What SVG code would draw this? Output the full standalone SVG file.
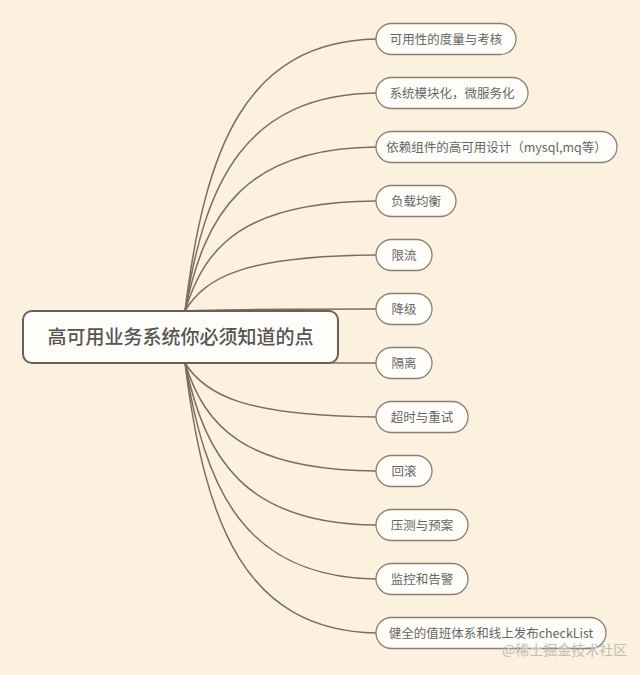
<svg xmlns="http://www.w3.org/2000/svg" width="640" height="675" viewBox="0 0 640 675">
<style>
.bg{fill:#fbf1de}
.edge{fill:none;stroke:#7d6e5a;stroke-width:1.5}
.leaf rect{fill:#fffdf9;stroke:#8c7f6e;stroke-width:1.3}
.leaf text{font-family:"Noto Sans CJK SC","Noto Sans",sans-serif;font-size:12.5px;fill:#666;text-anchor:middle}
.root rect{fill:#fffdf9;stroke:#6b6152;stroke-width:2}
.root text{font-family:"Noto Sans CJK SC","Noto Sans",sans-serif;font-size:19px;font-weight:500;fill:#555;text-anchor:middle}
.wm{font-family:"Noto Sans CJK SC","Noto Sans",sans-serif;font-size:14px;fill:#c2beb6}
</style>
<rect class="bg" x="0" y="0" width="640" height="675"/>
<g id="connectors">
<path class="edge" d="M185,311 C205,148 245,42 376,39"/>
<path class="edge" d="M185,311 C205,181 245,95 376,93"/>
<path class="edge" d="M185,311 C205,213 245,148 376,147"/>
<path class="edge" d="M185,311 C205,245 245,202 376,201"/>
<path class="edge" d="M185,311 C205,277 245,256 376,255"/>
<path class="edge" d="M185,311 C205,310 245,309 376,309"/>
<path class="edge" d="M185,363 C205,363 245,363 376,363"/>
<path class="edge" d="M185,363 C205,395 245,416 376,417"/>
<path class="edge" d="M185,363 C205,427 245,470 376,471"/>
<path class="edge" d="M185,363 C205,459 245,524 376,525"/>
<path class="edge" d="M185,363 C205,491 245,577 376,579"/>
<path class="edge" d="M185,363 C205,525 245,630 376,633"/>
</g>
<g id="root" class="root">
<rect x="23" y="311" width="315" height="52" rx="9"/>
<text x="180.5" y="343.5">高可用业务系统你必须知道的点</text>
</g>
<g id="n1" class="leaf"><rect x="376" y="23.5" width="140" height="31" rx="15.5"/><text x="446" y="43.5">可用性的度量与考核</text></g>
<g id="n2" class="leaf"><rect x="376" y="77.5" width="152" height="31" rx="15.5"/><text x="452" y="97.5">系统模块化，微服务化</text></g>
<g id="n3" class="leaf"><rect x="376" y="131.5" width="241" height="31" rx="15.5"/><text x="496.5" y="151.5">依赖组件的高可用设计（mysql,mq等）</text></g>
<g id="n4" class="leaf"><rect x="376" y="185.5" width="80" height="31" rx="15.5"/><text x="416" y="205.5">负载均衡</text></g>
<g id="n5" class="leaf"><rect x="376" y="239.5" width="56" height="31" rx="15.5"/><text x="404" y="259.5">限流</text></g>
<g id="n6" class="leaf"><rect x="376" y="293.5" width="56" height="31" rx="15.5"/><text x="404" y="313.5">降级</text></g>
<g id="n7" class="leaf"><rect x="376" y="347.5" width="56" height="31" rx="15.5"/><text x="404" y="367.5">隔离</text></g>
<g id="n8" class="leaf"><rect x="376" y="401.5" width="92" height="31" rx="15.5"/><text x="422" y="421.5">超时与重试</text></g>
<g id="n9" class="leaf"><rect x="376" y="455.5" width="56" height="31" rx="15.5"/><text x="404" y="475.5">回滚</text></g>
<g id="n10" class="leaf"><rect x="376" y="509.5" width="92" height="31" rx="15.5"/><text x="422" y="529.5">压测与预案</text></g>
<g id="n11" class="leaf"><rect x="376" y="563.5" width="92" height="31" rx="15.5"/><text x="422" y="583.5">监控和告警</text></g>
<g id="n12" class="leaf"><rect x="376" y="617.5" width="230" height="31" rx="15.5"/><text x="491" y="637.5">健全的值班体系和线上发布checkList</text></g>
<text class="wm" x="502" y="655">@稀土掘金技术社区</text>
</svg>
